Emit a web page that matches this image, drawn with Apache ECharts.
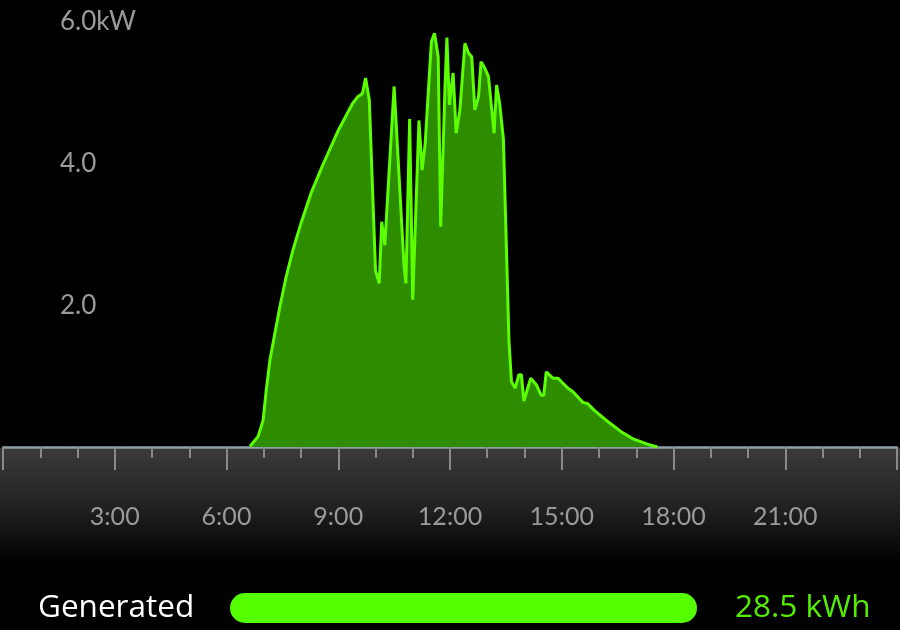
<!DOCTYPE html>
<html>
<head>
<meta charset="utf-8">
<script src="https://cdn.jsdelivr.net/npm/echarts@6/dist/echarts.min.js"></script>
<style>
html,body{margin:0;padding:0;background:#000;}
#chart{width:900px;height:630px;}
</style>
</head>
<body>
<div id="chart"></div>
<script>
// Power generation readings (time of day, kW)
const times = ["6:38","6:51","6:59","7:04","7:10","7:18","7:26","7:36","7:47","8:00","8:16","8:35","8:59","9:23","9:31","9:39","9:44","9:50",
"10:00","10:06","10:10","10:15","10:30","10:46","10:49","10:55","11:00","11:10","11:15","11:20","11:30","11:35","11:41","11:45","11:52","11:55","11:59",
"12:05","12:10","12:16","12:24","12:30","12:35","12:40","12:46","12:50","12:56","13:02","13:11","13:15","13:20","13:26","13:35","13:39","13:45","13:51","13:55","13:59",
"14:10","14:19","14:27","14:31","14:35","14:46","14:54","15:10","15:18","15:34","15:42","15:52","16:14","16:35","16:56","17:18","17:34"];
const powerKW = [0.01,0.15,0.38,0.80,1.23,1.61,1.98,2.40,2.78,3.16,3.58,3.98,4.45,4.85,4.94,4.99,5.21,4.90,
2.49,2.31,3.18,2.85,5.09,2.55,2.31,4.63,2.08,4.61,3.91,4.28,5.72,5.84,5.51,3.11,5.09,5.78,4.83,
5.28,4.43,4.76,5.70,5.56,5.51,4.76,4.95,5.44,5.35,5.23,4.43,5.11,4.85,4.35,1.50,0.92,0.83,1.02,1.02,0.65,
0.97,0.88,0.73,0.73,1.06,0.97,0.97,0.83,0.78,0.63,0.61,0.52,0.36,0.22,0.11,0.04,0.0];
const hourTicks = [0,3,6,9,12,15,18,21,24];
const yTicks = [0,2,4,6];
const totalLabel = "Generated";
const totalKWh = 28.5;

function toHours(s){const p=s.split(":");return +p[0] + (+p[1])/60;}
const seriesData = times.map((t,i)=>[toHours(t), powerKW[i]]);

const chart = echarts.init(document.getElementById('chart'));
chart.setOption({
  backgroundColor:'#000',
  animation:false,
  graphic:[{
    type:'rect', z:-10, silent:true,
    shape:{x:0,y:448,width:900,height:115},
    style:{fill:new echarts.graphic.LinearGradient(0,0,0,1,[
      {offset:0,color:'#3b3b3b'},{offset:0.55,color:'#1f1f1f'},{offset:1,color:'#000'}])}
  }],
  grid:[
    {left:1.5,right:-1.5,top:22,bottom:183},
    {left:230,right:203,top:593,height:30}
  ],
  xAxis:[{
    type:'value', gridIndex:0, min:hourTicks[0], max:hourTicks[hourTicks.length-1], interval:3,
    axisLine:{show:true,lineStyle:{color:'#8fa2aa',width:2.5}},
    axisTick:{show:true,length:23,lineStyle:{color:'#8a8a8a',width:2}},
    minorTick:{show:true,splitNumber:3,length:11,lineStyle:{color:'#8a8a8a',width:2}},
    splitLine:{show:false},
    axisLabel:{margin:57,color:'#9a9a9a',fontSize:25,fontFamily:'Lato',
      formatter:v=>(v===0||v===24)?'':v+':00'}
  },{
    type:'value', gridIndex:1, min:0, max:totalKWh, show:false
  }],
  yAxis:[{
    type:'value', gridIndex:0, min:yTicks[0], max:yTicks[yTicks.length-1], interval:2,
    axisLine:{show:false}, axisTick:{show:false}, splitLine:{show:false},
    axisLabel:{inside:true,margin:57,color:'#9a9a9a',fontSize:26,fontFamily:'Lato',
      formatter:v=>v===0?'':(v===6?v.toFixed(1)+'kW':v.toFixed(1))}
  },{
    type:'category', gridIndex:1, data:[totalLabel],
    axisLine:{show:false}, axisTick:{show:false},
    axisLabel:{margin:192,align:'left',color:'#ffffff',fontSize:31.5,fontFamily:'Open Sans'}
  }],
  series:[{
    type:'line', xAxisIndex:0, yAxisIndex:0, data:seriesData, symbol:'none',
    lineStyle:{color:'#5cff00',width:3},
    areaStyle:{color:'#2e8c00',opacity:1}
  },{
    type:'bar', xAxisIndex:1, yAxisIndex:1, data:[totalKWh], barWidth:30,
    itemStyle:{color:'#55ff00',borderRadius:15},
    label:{show:true,position:'right',distance:38,color:'#55ee00',fontSize:31.5,fontFamily:'Open Sans',
      formatter:p=>p.value.toFixed(1)+' kWh'}
  }]
});
</script>
</body>
</html>
